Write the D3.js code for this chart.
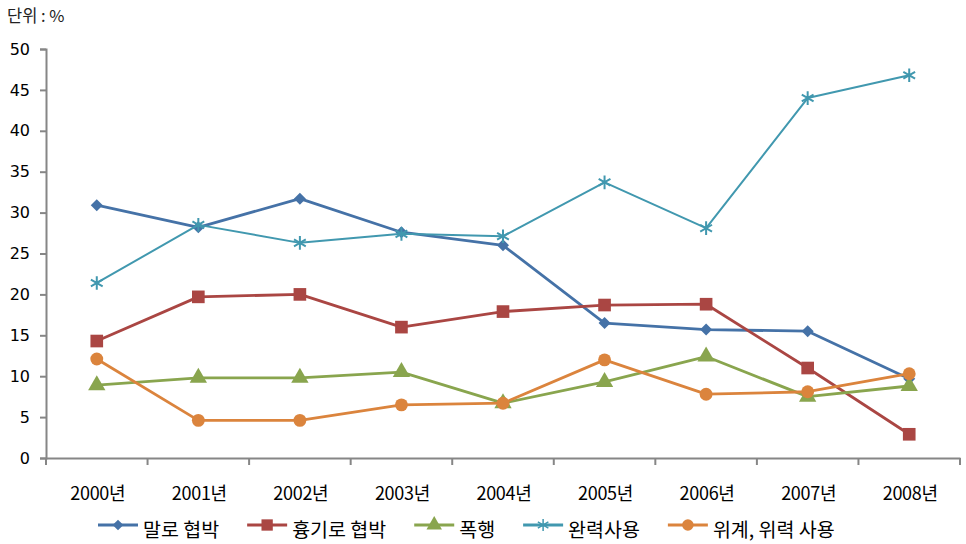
<!DOCTYPE html>
<html><head><meta charset="utf-8">
<script src="https://cdn.jsdelivr.net/npm/d3@7"></script>
<style>body{margin:0;background:#fff}svg{display:block}text{font-family:"Noto Sans CJK KR","Noto Sans",sans-serif}</style>
</head><body>
<svg id="c" width="966" height="544"></svg>
<script>
const categories = ["2000년","2001년","2002년","2003년","2004년","2005년","2006년","2007년","2008년"];
const seriesNames = ["말로 협박","흉기로 협박","폭행","완력사용","위계, 위력 사용"];
const verbalThreat = [30.9,28.2,31.7,27.6,26.0,16.5,15.7,15.5,9.7];
const weaponThreat = [14.3,19.7,20.0,16.0,17.9,18.7,18.8,11.0,2.9];
const assault = [8.9,9.8,9.8,10.5,6.7,9.3,12.4,7.5,8.8];
const forceUse = [21.4,28.5,26.3,27.4,27.1,33.7,28.1,44.0,46.8];
const deceptionUse = [12.1,4.6,4.6,6.5,6.7,12.0,7.8,8.1,10.3];
const yTicks = [0,5,10,15,20,25,30,35,40,45,50];
const unitLabel = "단위 : %";

const colors = ["#4572A7","#AA4643","#89A54E","#4198AF","#DB843D"];
const symbols = ["diamond","square","triangle","star","circle"];
const seriesData = [verbalThreat, weaponThreat, assault, forceUse, deceptionUse];

const svg = d3.select("#c");
const mLeft = 46, mRight = 960, mTop = 49, mBottom = 458;
const x = d3.scaleBand().domain(categories).range([mLeft, mRight]).padding(0);
const y = d3.scaleLinear().domain([0, 50]).range([mBottom, mTop]);
const cx = c => x(c) + x.bandwidth() / 2;

// unit label
svg.append("text").attr("x", 7).attr("y", 22).attr("font-size", 16.5).attr("fill", "#222").text(unitLabel);

// y axis
const yAxis = svg.append("g").attr("transform", `translate(${mLeft},0)`)
  .call(d3.axisLeft(y).tickValues(yTicks).tickSize(6).tickPadding(10).tickFormat(d3.format("d")));
yAxis.attr("font-family", null);
yAxis.select(".domain").attr("stroke", "#868686").attr("stroke-width", 2);
yAxis.selectAll(".tick line").attr("stroke", "#868686").attr("stroke-width", 2);
yAxis.selectAll(".tick text").attr("font-size", 16).attr("fill", "#000")
  .style("font-family", "'DejaVu Sans',sans-serif");

// x axis
const xAxis = svg.append("g").attr("transform", `translate(0,${mBottom})`)
  .call(d3.axisBottom(x).tickSize(0).tickPadding(0).tickFormat(""));
xAxis.select(".domain").attr("stroke", "#868686").attr("stroke-width", 2);
xAxis.selectAll(".tick").remove();
const bounds = categories.map(c => x(c)).concat([mRight]);
xAxis.selectAll("line.bt").data(bounds).join("line").attr("class","bt")
  .attr("x1", d => d).attr("x2", d => d).attr("y1", 0).attr("y2", 7)
  .attr("stroke", "#868686").attr("stroke-width", 2);
svg.append("g").selectAll("text").data(categories).join("text")
  .attr("x", d => cx(d) + 1).attr("y", 500).attr("text-anchor", "middle")
  .attr("font-size", 18).attr("fill", "#000").attr("letter-spacing", "-0.3")
  .text(d => d);

const types = {diamond: d3.symbolSquare, square: d3.symbolSquare, triangle: d3.symbolTriangle, star: d3.symbolAsterisk, circle: d3.symbolCircle};
const rot = {diamond: 45, square: 0, triangle: 0, star: 0, circle: 0};
function sym(i, size) {
  return d3.symbol().type(types[symbols[i]]).size(size)();
}
const sizes = [72, 160, 130, 130, 130];

const line = d3.line().x((d, j) => cx(categories[j])).y(d => y(d));
seriesData.forEach((vals, i) => {
  const g = svg.append("g");
  g.append("path").attr("d", line(vals)).attr("fill", "none")
    .attr("stroke", colors[i]).attr("stroke-width", i === 3 ? 2 : 2.8).attr("stroke-linejoin", "round");
  g.selectAll("path.m").data(vals).join("path").attr("class", "m")
    .attr("transform", (d, j) => `translate(${cx(categories[j])},${y(d)}) rotate(${rot[symbols[i]]})`)
    .attr("d", sym(i, sizes[i]))
    .attr("fill", symbols[i] === "star" ? "none" : colors[i])
    .attr("stroke", colors[i]).attr("stroke-width", symbols[i] === "star" ? 2 : 0);
});

// legend
const lg = svg.append("g");
let lx = 98;
const ly = 525;
seriesNames.forEach((name, i) => {
  const item = lg.append("g").attr("transform", `translate(${lx},${ly})`);
  item.append("line").attr("x1", 0).attr("x2", 40).attr("y1", 0).attr("y2", 0)
    .attr("stroke", colors[i]).attr("stroke-width", 3);
  item.append("path").attr("transform", `translate(20,0) rotate(${rot[symbols[i]]})`).attr("d", sym(i, sizes[i] * 0.8))
    .attr("fill", symbols[i] === "star" ? "none" : colors[i])
    .attr("stroke", colors[i]).attr("stroke-width", symbols[i] === "star" ? 1.5 : 0);
  const t = item.append("text").attr("x", 45).attr("y", 12).attr("font-size", 19.5).attr("fill", "#000").text(name);
  lx += 45 + t.node().getComputedTextLength() + 28;
});
</script>
</body></html>
